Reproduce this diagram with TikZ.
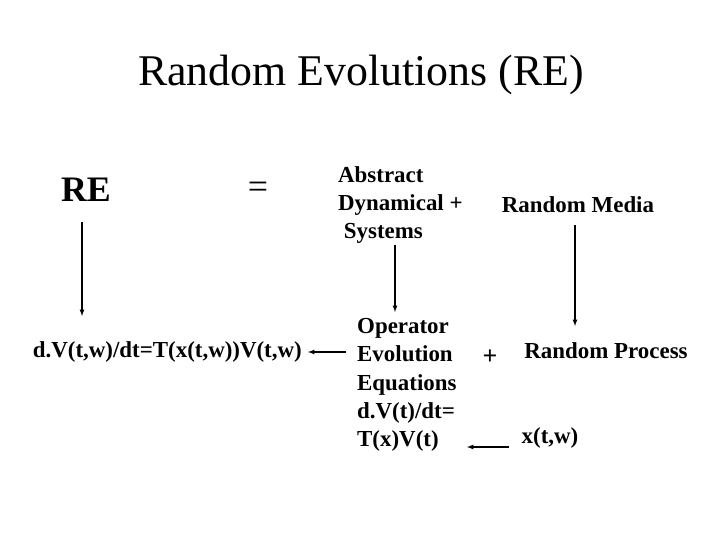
\documentclass[tikz,border=0pt]{standalone}
\usepackage{fontspec}
\setmainfont{Liberation Serif}
\begin{document}
\begin{tikzpicture}[x=1bp,y=-1bp,
  lbl/.style={font=\bfseries\fontsize{23}{28.5}\selectfont,inner sep=0pt},
  arr/.style={-latex,line width=1.2pt}]
\useasboundingbox (0,0) rectangle (720,540);
\node[font=\fontsize{44}{50}\selectfont,inner sep=0pt] (title) at (361,75) {Random Evolutions (RE)};
\node[font=\bfseries\fontsize{36}{40}\selectfont,inner sep=0pt] (re) at (86,190) {RE};
\node[font=\fontsize{36}{40}\selectfont,inner sep=0pt] (eq) at (258,190) {=};
\node[lbl,anchor=west,align=left] (ads) at (338,205) {Abstract\\Dynamical +\\\ Systems};
\node[lbl] (rm) at (578,205) {Random Media};
\node[lbl,anchor=east] (dv) at (302,352) {d.V(t,w)/dt=T(x(t,w))V(t,w)};
\node[lbl,anchor=west,align=left] (op) at (357,385) {Operator\\Evolution\\Equations\\d.V(t)/dt=\\T(x)V(t)};
\node[font=\bfseries\fontsize{26}{28}\selectfont,inner sep=0pt] (plus) at (490,357) {+};
\node[lbl] (rp) at (606,351) {Random Process};
\node[lbl] (xtw) at (550,438) {x(t,w)};
\coordinate (a1) at (82,222); \coordinate (b1) at (82,316);
\coordinate (a2) at (395,245); \coordinate (b2) at (395,312);
\coordinate (a3) at (575,225); \coordinate (b3) at (575,326);
\coordinate (a4) at (346,352); \coordinate (b4) at (308,352);
\coordinate (a5) at (509,447); \coordinate (b5) at (467,447);
\draw[arr] (a1) -- (b1);
\draw[arr] (a2) -- (b2);
\draw[arr] (a3) -- (b3);
\draw[arr] (a4) -- (b4);
\draw[arr] (a5) -- (b5);
\end{tikzpicture}
\end{document}
